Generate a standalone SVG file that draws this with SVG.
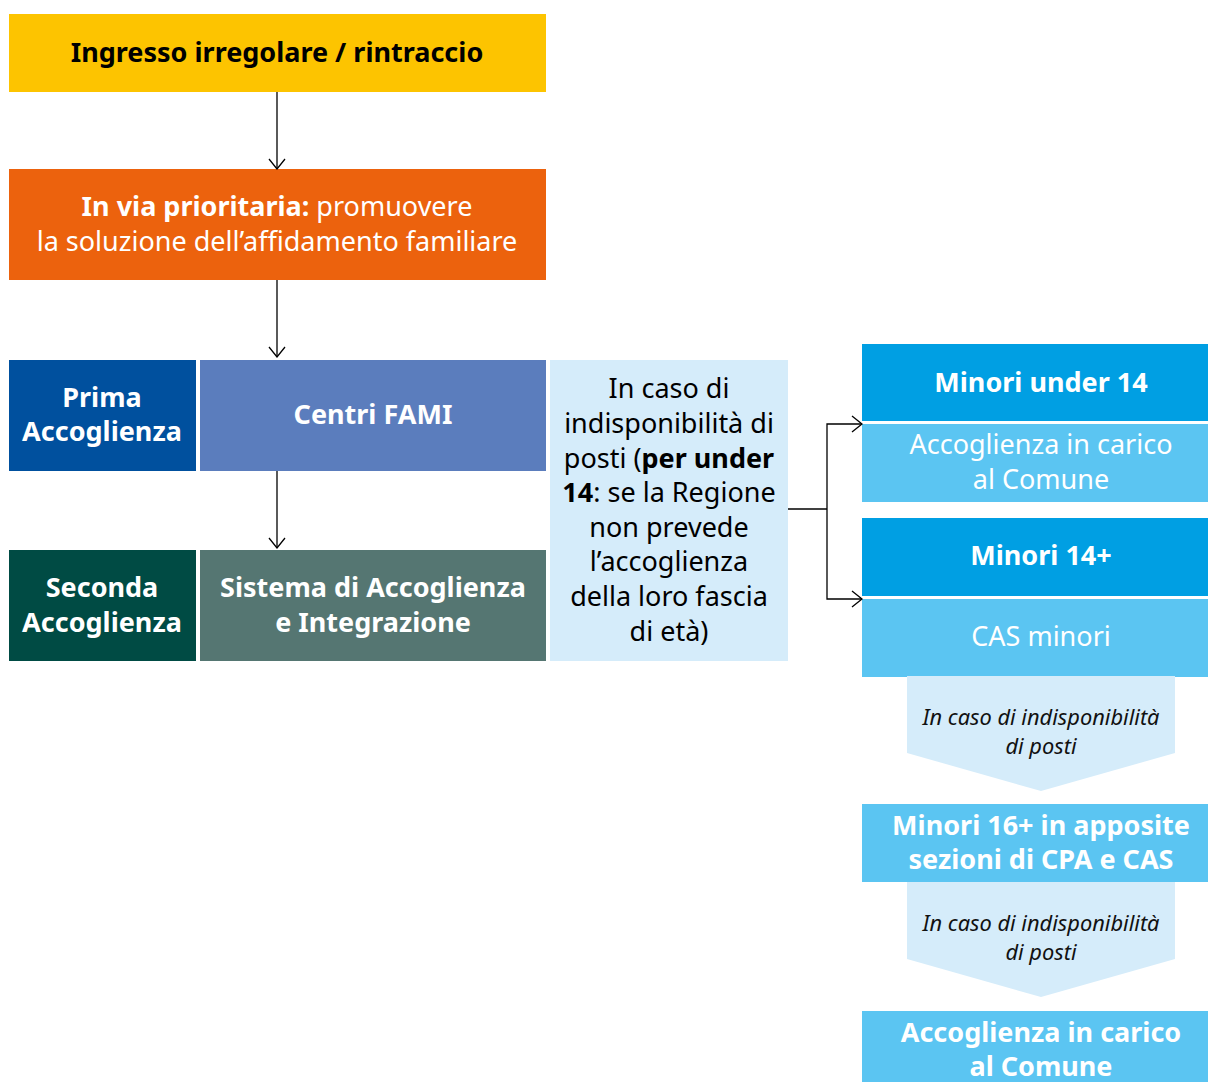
<svg xmlns="http://www.w3.org/2000/svg" width="1208" height="1082" viewBox="0 0 1208 1082">
<style>
text{font-family:"Noto Sans","Open Sans","Liberation Sans",sans-serif;text-anchor:middle}
.t24{font-size:27px}
.b{font-weight:bold}
.w{fill:#ffffff}
.k{fill:#000000}
.it{font-size:21.8px;font-style:italic;fill:#111111}
.con{fill:none;stroke:#000000;stroke-width:1.3}
</style>
<defs>
<marker id="ah" viewBox="0 0 12 18" refX="11" refY="9" markerWidth="12" markerHeight="18" markerUnits="userSpaceOnUse" orient="auto">
<path d="M1,1 L11,9 L1,17" fill="none" stroke="#000" stroke-width="1.3"/>
</marker>
</defs>
<rect width="1208" height="1082" fill="#ffffff"/>

<g id="n-ingresso">
<rect x="9" y="14" width="537" height="78" fill="#FDC400"/>
<text x="277" y="62" class="t24 b k">Ingresso irregolare / rintraccio</text>
</g>

<g id="n-prioritaria">
<rect x="9" y="169" width="537" height="111" fill="#EC620D"/>
<text x="277" y="216" class="t24 w"><tspan class="b">In via prioritaria:</tspan> promuovere</text>
<text x="277" y="251" class="t24 w">la soluzione dell’affidamento familiare</text>
</g>

<g id="n-prima">
<rect x="9" y="360" width="187" height="111" fill="#00509E"/>
<text x="102" y="407" class="t24 b w">Prima</text>
<text x="102" y="441" class="t24 b w">Accoglienza</text>
</g>

<g id="n-fami">
<rect x="200" y="360" width="346" height="111" fill="#5B7DBD"/>
<text x="373" y="424" class="t24 b w">Centri FAMI</text>
</g>

<g id="n-seconda">
<rect x="9" y="550" width="187" height="111" fill="#004B44"/>
<text x="102" y="597" class="t24 b w">Seconda</text>
<text x="102" y="632" class="t24 b w">Accoglienza</text>
</g>

<g id="n-sai">
<rect x="200" y="550" width="346" height="111" fill="#557672"/>
<text x="373" y="597" class="t24 b w">Sistema di Accoglienza</text>
<text x="373" y="632" class="t24 b w">e Integrazione</text>
</g>

<g id="n-indisp">
<rect x="550" y="360" width="238" height="301" fill="#D5ECFA"/>
<text x="669" y="398" class="t24 k">In caso di</text>
<text x="669" y="433" class="t24 k">indisponibilità di</text>
<text x="669" y="468" class="t24 k">posti (<tspan class="b">per under</tspan></text>
<text x="669" y="502" class="t24 k"><tspan class="b">14</tspan>: se la Regione</text>
<text x="669" y="537" class="t24 k">non prevede</text>
<text x="669" y="571" class="t24 k">l’accoglienza</text>
<text x="669" y="606" class="t24 k">della loro fascia</text>
<text x="669" y="641" class="t24 k">di età)</text>
</g>

<g id="n-under14">
<rect x="862" y="344" width="346" height="77" fill="#009FE3"/>
<text x="1041" y="392" class="t24 b w">Minori under 14</text>
</g>

<g id="n-comune1">
<rect x="862" y="424" width="346" height="78" fill="#5BC5F2"/>
<text x="1041" y="454" class="t24 w">Accoglienza in carico</text>
<text x="1041" y="489" class="t24 w">al Comune</text>
</g>

<g id="n-14plus">
<rect x="862" y="518" width="346" height="78" fill="#009FE3"/>
<text x="1041" y="565" class="t24 b w">Minori 14+</text>
</g>

<g id="n-cas">
<rect x="862" y="599" width="346" height="78" fill="#5BC5F2"/>
<text x="1041" y="646" class="t24 w">CAS minori</text>
</g>

<g id="n-chev1">
<polygon points="907,676 1175,676 1175,753 1041,791 907,753" fill="#D5ECFA"/>
<text x="1041" y="725" class="it">In caso di indisponibilità</text>
<text x="1041" y="754" class="it">di posti</text>
</g>

<g id="n-16plus">
<rect x="862" y="804" width="346" height="78" fill="#5BC5F2"/>
<text x="1041" y="835" class="t24 b w">Minori 16+ in apposite</text>
<text x="1041" y="869" class="t24 b w">sezioni di CPA e CAS</text>
</g>

<g id="n-chev2">
<polygon points="907,882 1175,882 1175,959 1041,997 907,959" fill="#D5ECFA"/>
<text x="1041" y="931" class="it">In caso di indisponibilità</text>
<text x="1041" y="960" class="it">di posti</text>
</g>

<g id="n-comune2">
<rect x="862" y="1011" width="346" height="71" fill="#5BC5F2"/>
<text x="1041" y="1042" class="t24 b w">Accoglienza in carico</text>
<text x="1041" y="1076" class="t24 b w">al Comune</text>
</g>

<g id="connectors">
<path class="con" d="M277,92 V169" marker-end="url(#ah)"/>
<path class="con" d="M277,280 V357" marker-end="url(#ah)"/>
<path class="con" d="M277,471 V548" marker-end="url(#ah)"/>
<path class="con" d="M788,509 H827"/>
<path class="con" d="M827,509 V424 H862" marker-end="url(#ah)"/>
<path class="con" d="M827,509 V599 H862" marker-end="url(#ah)"/>
</g>
</svg>
